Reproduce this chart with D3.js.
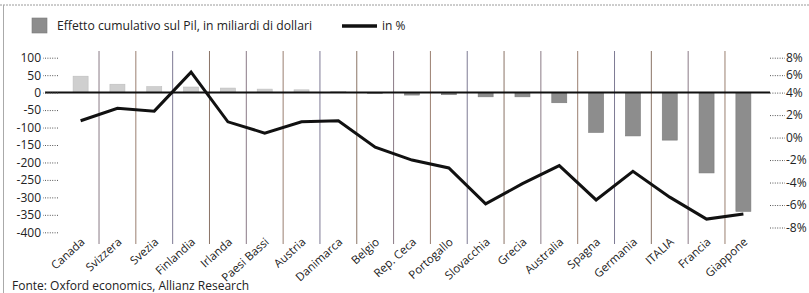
<!DOCTYPE html>
<html><head><meta charset="utf-8">
<script src="https://cdn.jsdelivr.net/npm/d3@7"></script>
<style>
body{margin:0;background:#fff;}
svg{display:block;font-family:"Open Sans",sans-serif;}
</style></head>
<body>
<svg id="chart" width="809" height="293"></svg>
<script>
const categories = ["Canada","Svizzera","Svezia","Finlandia","Irlanda","Paesi Bassi","Austria","Danimarca","Belgio","Rep. Ceca","Portogallo","Slovacchia","Grecia","Australia","Spagna","Germania","ITALIA","Francia","Giappone"];
const gdpEffect = [47,24,17,16,13,10,8,3,-2,-7,-6,-12,-12,-29,-114,-124,-136,-230,-340];
const pctEffect = [1.5,2.6,2.35,6.35,1.4,0.4,1.4,1.5,-0.85,-2.0,-2.7,-5.9,-4.1,-2.5,-5.55,-3.0,-5.3,-7.25,-6.8];
const leftTicks = [100,50,0,-50,-100,-150,-200,-250,-300,-350,-400];
const rightTicks = [8,6,4,2,0,-2,-4,-6,-8];
const legendBar = "Effetto cumulativo sul Pil, in miliardi di dollari";
const legendLine = "in %";
const source = "Fonte: Oxford economics, Allianz Research";

const svg = d3.select("#chart");
const W = 809, H = 293;

// frame
svg.append("line").attr("x1",0).attr("x2",W).attr("y1",5).attr("y2",5)
  .attr("stroke","#9a9a9a").attr("stroke-width",1).attr("stroke-dasharray","2,1");
svg.append("line").attr("x1",3.5).attr("x2",3.5).attr("y1",5).attr("y2",H)
  .attr("stroke","#aaa").attr("stroke-width",1);

const x = d3.scaleBand().domain(categories).range([62.2,761.8]).padding(0);
const yL = d3.scaleLinear().domain([-400,100]).range([232.3,57.7]);
const yR = d3.scaleLinear().domain([-8,4,8]).range([227.5,92.6,57.7]);

// vertical separators
const sepColors = ["#8a7a86","#9a7f70","#7d7a94","#8a7466"];
svg.append("g").selectAll("line").data(categories.slice(1)).join("line")
  .attr("x1",d=>x(d)).attr("x2",d=>x(d))
  .attr("y1",51).attr("y2",244)
  .attr("stroke",(d,i)=>sepColors[i%sepColors.length]).attr("stroke-width",1);

// bars
const bw = 15;
svg.append("g").selectAll("rect").data(categories).join("rect")
  .attr("x",d=>x(d)+x.bandwidth()/2-bw/2)
  .attr("width",bw)
  .attr("y",(d,i)=>Math.min(yL(0),yL(gdpEffect[i])))
  .attr("height",(d,i)=>Math.abs(yL(gdpEffect[i])-yL(0)))
  .attr("fill",(d,i)=>gdpEffect[i]>0?"#cfcfcf":"#8d8d8d")
  .attr("stroke",(d,i)=>gdpEffect[i]>0?"#bdbdbd":"#7a7a7a").attr("stroke-width",0.6);

// zero line
svg.append("line").attr("x1",45).attr("x2",770).attr("y1",yL(0)).attr("y2",yL(0))
  .attr("stroke","#111").attr("stroke-width",2);

// left axis
const gl = svg.append("g").attr("transform","translate(58,0)")
  .call(d3.axisLeft(yL).tickValues(leftTicks).tickSize(15).tickPadding(2).tickFormat(d=>d));
gl.select(".domain").remove();
gl.selectAll(".tick line").attr("stroke","#555").attr("stroke-dasharray","1,1.4");
gl.selectAll(".tick text").attr("font-size",12).attr("fill","#222").attr("font-family","Open Sans");

// right axis
const gr = svg.append("g").attr("transform","translate(770,0)")
  .call(d3.axisRight(yR).tickValues(rightTicks).tickSize(15).tickPadding(1).tickFormat(d=>d+"%"));
gr.select(".domain").remove();
gr.selectAll(".tick line").attr("stroke","#555").attr("stroke-dasharray","1,1.4");
gr.selectAll(".tick text").attr("font-size",12).attr("fill","#222").attr("font-family","Open Sans");

// line
const line = d3.line().x((d,i)=>x(categories[i])+x.bandwidth()/2).y(d=>yR(d)).curve(d3.curveLinear);
svg.append("path").datum(pctEffect).attr("d",line)
  .attr("fill","none").attr("stroke","#111").attr("stroke-width",3).attr("stroke-linejoin","miter");

// x labels
svg.append("g").selectAll("text").data(categories).join("text")
  .attr("transform",d=>`translate(${x(d)+x.bandwidth()/2+5},${243}) rotate(-42)`)
  .attr("text-anchor","end")
  .attr("font-size",11.5)
  .attr("fill","#222")
  .text(d=>d);

// legend
svg.append("rect").attr("x",32).attr("y",18).attr("width",15).attr("height",15)
  .attr("fill","#8d8d8d").attr("stroke","#7a7a7a").attr("stroke-width",0.6);
svg.append("text").attr("x",57).attr("y",30).attr("font-size",12).attr("fill","#222")
  .attr("textLength",255).attr("lengthAdjust","spacingAndGlyphs").text(legendBar);
svg.append("line").attr("x1",342).attr("x2",377).attr("y1",26).attr("y2",26)
  .attr("stroke","#111").attr("stroke-width",3.5);
svg.append("text").attr("x",382).attr("y",30).attr("font-size",12).attr("fill","#222").text(legendLine);

// source
svg.append("text").attr("x",12).attr("y",290).attr("font-size",12).attr("fill","#222").text(source);
</script>
</body></html>
